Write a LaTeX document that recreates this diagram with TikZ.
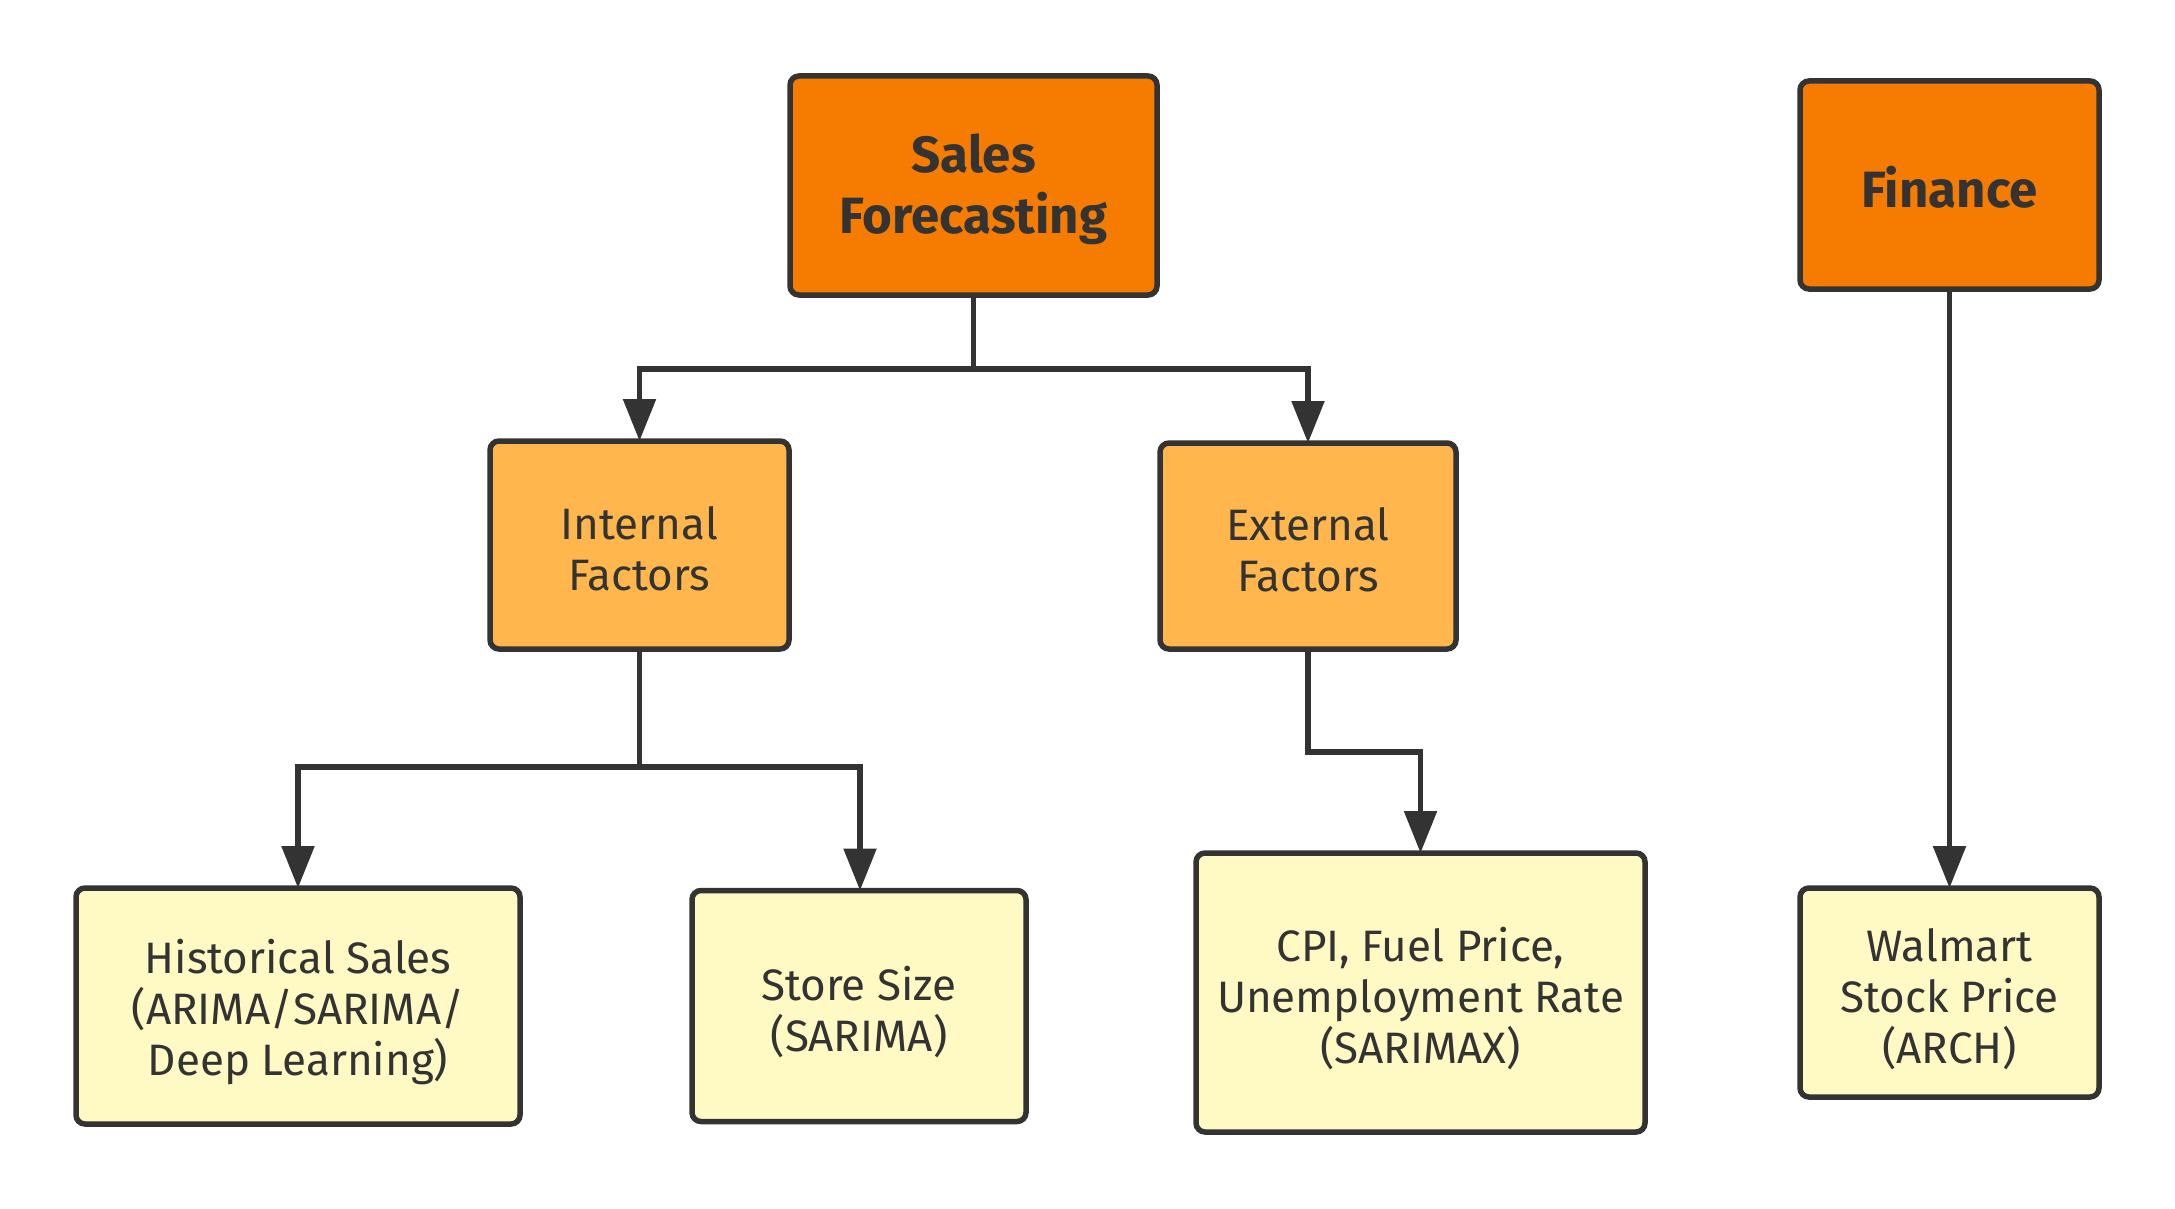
\documentclass[tikz,border=0pt]{standalone}
\usepackage{fontspec}
\setmainfont{Fira Sans}
\usetikzlibrary{arrows.meta}
\definecolor{edgec}{HTML}{333333}
\definecolor{darkor}{HTML}{F57C00}
\definecolor{midor}{HTML}{FFB74D}
\definecolor{lighty}{HTML}{FFF9C4}
\newcommand\droplead[1]{\rule{0pt}{#1}}
\tikzset{
  box/.style={draw=edgec, line width=5.5pt, rounded corners=9pt, align=center, text=edgec,
    font=\fontsize{44}{51}\selectfont, inner sep=0pt, outer sep=0pt},
  topbox/.style={box, fill=darkor, font=\fontsize{51}{61}\selectfont\bfseries},
  midbox/.style={box, fill=midor},
  leafbox/.style={box, fill=lighty},
  conn/.style={draw=edgec, line width=5.5pt, -{Triangle[length=42pt,width=32pt]}},
}
\begin{document}
\begin{tikzpicture}[x=1pt,y=-1pt]
\useasboundingbox (0,0) rectangle (2175,1209);
\node[topbox, minimum width=367pt, minimum height=219pt] (sales) at (973.5,185.5) {\droplead{46pt}Sales\\Forecasting};
\node[topbox, minimum width=299pt, minimum height=208pt] (fin) at (1949.5,185) {\droplead{46pt}Finance};
\node[midbox, minimum width=299pt, minimum height=208pt] (int) at (639.5,545) {\droplead{40pt}Internal\\Factors};
\node[midbox, minimum width=296pt, minimum height=206pt] (ext) at (1308,546) {\droplead{40pt}External\\Factors};
\node[leafbox, minimum width=444pt, minimum height=236pt] (hist) at (298,1006) {\droplead{46pt}Historical Sales\\(ARIMA/SARIMA/\\Deep Learning)};
\node[leafbox, minimum width=334pt, minimum height=231pt] (store) at (859,1006) {\droplead{46pt}Store Size\\(SARIMA)};
\node[leafbox, minimum width=449pt, minimum height=279pt] (cpi) at (1420.5,992.5) {\droplead{46pt}CPI, Fuel Price,\\Unemployment Rate\\(SARIMAX)};
\node[leafbox, minimum width=299pt, minimum height=209pt] (wal) at (1949.5,992.5) {\droplead{46pt}Walmart\\Stock Price\\(ARCH)};
\draw[conn] (sales.south) -- ++(0,74) -| (int.north);
\draw[conn] (sales.south) -- ++(0,74) -| (ext.north);
\draw[conn] (int.south) -- ++(0,118) -| (hist.north);
\draw[conn] (int.south) -- ++(0,118) -| ([xshift=1pt]store.north);
\draw[conn] (ext.south) -- ++(0,103) -| (cpi.north);
\draw[conn] (fin.south) -- (wal.north);
\end{tikzpicture}
\end{document}
